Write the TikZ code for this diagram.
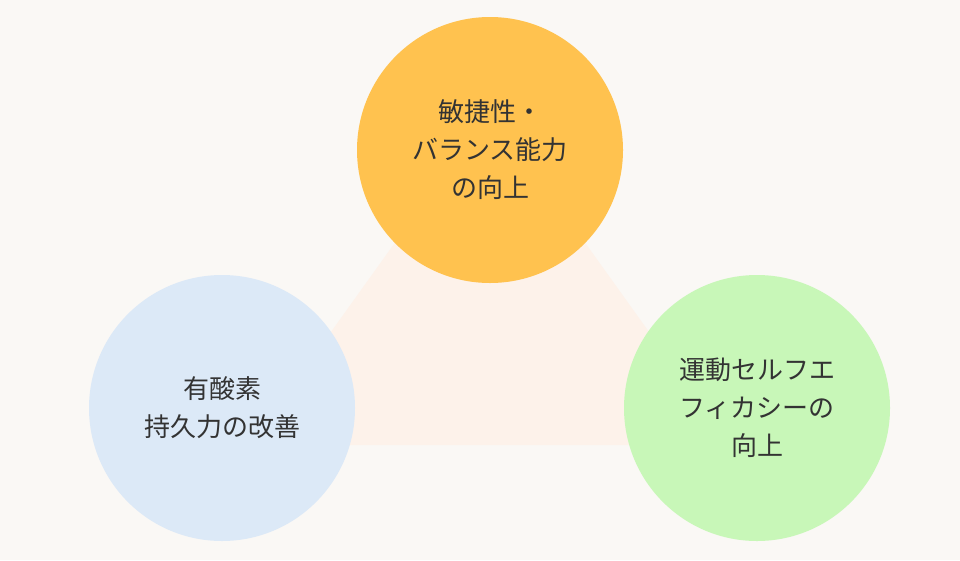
\documentclass[tikz,border=0pt]{standalone}
\usepackage{fontspec}
\setmainfont{Noto Sans CJK JP}
\definecolor{bg}{HTML}{FAF8F5}
\definecolor{tri}{HTML}{FDF2EA}
\definecolor{cO}{HTML}{FFC24F}
\definecolor{cB}{HTML}{DCE9F7}
\definecolor{cG}{HTML}{C8F7B8}
\definecolor{tx}{HTML}{333333}
\begin{document}
\begin{tikzpicture}[x=1pt,y=-1pt,
  circ/.style={circle,minimum size=266pt,inner sep=0pt,align=center,text=tx,font=\fontsize{26pt}{38pt}\selectfont}]
\fill[bg] (0,0) rectangle (960,560);
\useasboundingbox (0,0) rectangle (960,560);
\coordinate (t1) at (490,110);
\coordinate (t2) at (250,445);
\coordinate (t3) at (730,445);
\fill[tri] (t1) -- (t2) -- (t3) -- cycle;
\node[circ,fill=cO] (a) at (490,150) {敏捷性・\\バランス能力\\の向上};
\node[circ,fill=cB] (b) at (222,408) {有酸素\\持久力の改善};
\node[circ,fill=cG] (c) at (757,408) {運動セルフエ\\フィカシーの\\向上};
\end{tikzpicture}
\end{document}
